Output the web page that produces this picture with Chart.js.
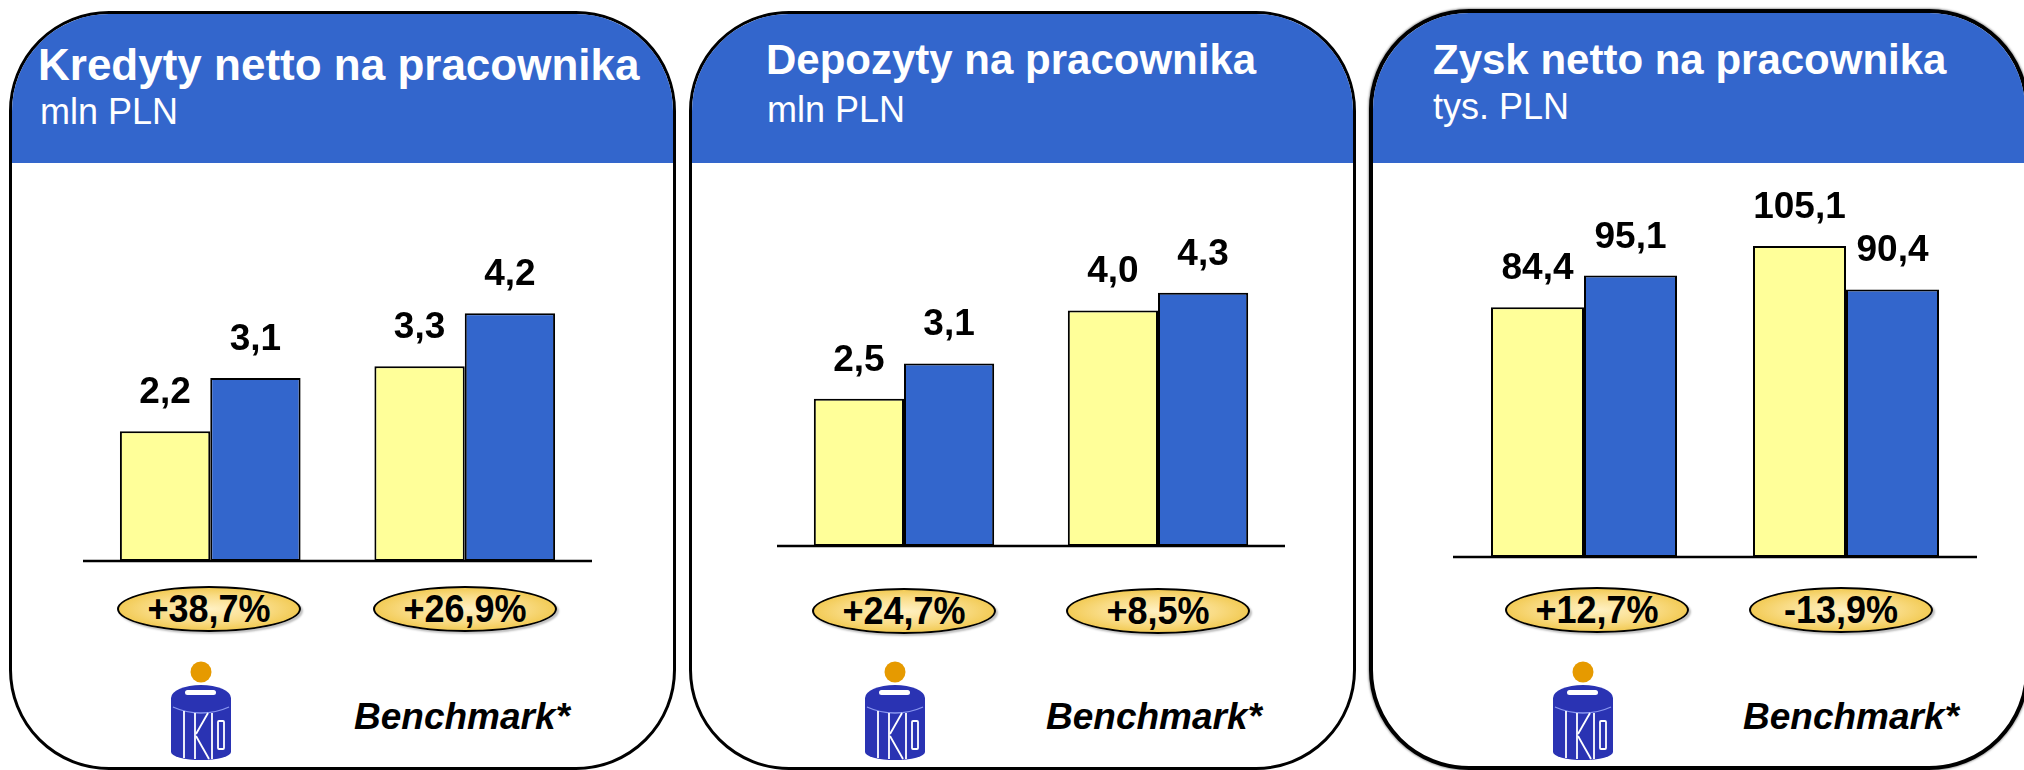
<!DOCTYPE html>
<html>
<head>
<meta charset="utf-8">
<script src="https://cdn.jsdelivr.net/npm/chart.js@4.4.1/dist/chart.umd.min.js"></script>
<style>
  html, body { margin:0; padding:0; background:#fff; }
  body { width:2024px; height:770px; position:relative; overflow:hidden; font-family:"Liberation Sans", Arial, sans-serif; }
  .panel { position:absolute; box-sizing:border-box; border:3px solid #000; border-radius:100px; overflow:hidden; background:#fff; }
  .panel .head { position:absolute; left:0; top:0; right:0; background:#3366CC; }
  .txt { position:absolute; white-space:nowrap; line-height:1; }
  .title { color:#fff; font-weight:bold; }
  .sub { color:#fff; }
  .bench { color:#000; font-weight:bold; font-style:italic; }
  .pill { position:absolute; box-sizing:border-box; width:184px; height:46px; border:2px solid #000; border-radius:50%;
          background: radial-gradient(ellipse at 50% 50%, #FFF1C4 0%, #F9DC86 45%, #F0C545 80%, #E9B52C 100%);
          box-shadow: 2px 2px 2px rgba(0,0,0,0.25);
          display:flex; align-items:center; justify-content:center; font-weight:bold; font-size:36px; line-height:1; color:#000; }
  .pill span { display:inline-block; transform:scaleY(1.08); }
  canvas.layer { position:absolute; left:0; top:0; }
  svg.logo { position:absolute; }
</style>
</head>
<body>
<script>
// ---------------- DATA ----------------
const categories = ['PKO BP', 'Benchmark'];
const seriesNames = ['Okres poprzedni', 'Okres bieżący'];

const kredytyPrev = [2.2, 3.3];
const kredytyCurr = [3.1, 4.2];
const kredytyChange = ['+38,7%', '+26,9%'];

const depozytyPrev = [2.5, 4.0];
const depozytyCurr = [3.1, 4.3];
const depozytyChange = ['+24,7%', '+8,5%'];

const zyskPrev = [84.4, 105.1];
const zyskCurr = [95.1, 90.4];
const zyskChange = ['+12,7%', '-13,9%'];

const panelTitles = ['Kredyty netto na pracownika', 'Depozyty na pracownika', 'Zysk netto na pracownika'];
const panelUnits = ['mln PLN', 'mln PLN', 'tys. PLN'];
const benchmarkLabel = 'Benchmark*';

// ---------------- LAYOUT (positions only) ----------------
const layouts = [
  { box:[8.5, 10.5, 667, 759], border:3, headBottom:163, titleX:38, titleBase:80, titleSize:44, subX:40, subBase:124,
    area:{left:83, right:592, bottom:561}, yMax:5, pxPerUnit:59,
    pills:[209, 465], pillY:609, logoCX:201, benchX:354 },
  { box:[688.5, 10.5, 667, 759], border:3, headBottom:163, titleX:766, titleBase:75, titleSize:42, subX:767, subBase:122,
    area:{left:777, right:1285, bottom:546}, yMax:5, pxPerUnit:58.9,
    pills:[904, 1158], pillY:611, logoCX:895, benchX:1046 },
  { box:[1369, 9, 660, 761], border:4, headBottom:163, titleX:1433, titleBase:75, titleSize:42, subX:1433, subBase:119,
    area:{left:1453, right:1977, bottom:557}, yMax:110, pxPerUnit:2.96,
    pills:[1597, 1841], pillY:609.5, logoCX:1583, benchX:1743 }
];

const panelData = [
  { prev:kredytyPrev, curr:kredytyCurr, change:kredytyChange },
  { prev:depozytyPrev, curr:depozytyCurr, change:depozytyChange },
  { prev:zyskPrev, curr:zyskCurr, change:zyskChange }
];

const W = 2024, H = 770;

function addText(cls, text, x, baseline, size) {
  const d = document.createElement('div');
  d.className = 'txt ' + cls;
  d.textContent = text;
  d.style.fontSize = size + 'px';
  d.style.left = x + 'px';
  d.style.top = (baseline - 0.8465 * size) + 'px';
  document.body.appendChild(d);
  return d;
}

function addLogo(cx) {
  const ns = 'http://www.w3.org/2000/svg';
  const svg = document.createElementNS(ns, 'svg');
  svg.setAttribute('class', 'logo');
  svg.setAttribute('width', '62');
  svg.setAttribute('height', '104');
  svg.setAttribute('viewBox', '0 0 62 104');
  svg.style.left = (cx - 31) + 'px';
  svg.style.top = '660px';
  svg.innerHTML =
    '<circle cx="31" cy="12" r="10.5" fill="#E69A00"/>' +
    '<path d="M1 38 A30 13 0 0 1 61 38 L61 92 A30 8 0 0 1 1 92 Z" fill="#2A33B3"/>' +
    '<rect x="15" y="30" width="31" height="5" rx="2.5" fill="#fff"/>' +
    '<path d="M3 47 Q16 53 31 53 Q46 53 59 47" stroke="#8b98f0" stroke-width="1.3" fill="none"/>' +
    '<g stroke="#fff" stroke-width="1.8" fill="none">' +
      '<line x1="14" y1="51" x2="14" y2="98"/>' +
      '<line x1="25" y1="53" x2="25" y2="99"/>' +
      '<path d="M26 74 L38 53"/>' +
      '<path d="M26 76 L39 99"/>' +
      '<line x1="42" y1="53" x2="42" y2="99"/>' +
      '<rect x="48" y="61" width="6" height="28" rx="1"/>' +
    '</g>';
  document.body.appendChild(svg);
}

// panels, headers, text
layouts.forEach((L, p) => {
  const panel = document.createElement('div');
  panel.className = 'panel';
  panel.style.left = L.box[0] + 'px';
  panel.style.top = L.box[1] + 'px';
  panel.style.width = L.box[2] + 'px';
  panel.style.height = L.box[3] + 'px';
  panel.style.borderWidth = L.border + 'px';
  if (p === 2) panel.style.boxShadow = '0 0 2px 1px rgba(0,0,0,0.35)';
  const head = document.createElement('div');
  head.className = 'head';
  head.style.height = (L.headBottom - L.box[1] - L.border) + 'px';
  panel.appendChild(head);
  document.body.appendChild(panel);

  addText('title', panelTitles[p], L.titleX, L.titleBase, L.titleSize);
  addText('sub', panelUnits[p], L.subX, L.subBase, 36);
  addText('bench', benchmarkLabel, L.benchX, 729, 37);
  addLogo(L.logoCX);

  panelData[p].change.forEach((c, i) => {
    const e = document.createElement('div');
    e.className = 'pill';
    const s = document.createElement('span');
    s.textContent = c;
    e.appendChild(s);
    e.style.left = (L.pills[i] - 92) + 'px';
    e.style.top = (L.pillY - 23) + 'px';
    document.body.appendChild(e);
  });
});

// ---------------- CHARTS ----------------
const fmt = v => v.toFixed(1).replace('.', ',');

const valueLabels = {
  id: 'valueLabels',
  afterDatasetsDraw(chart) {
    const ctx = chart.ctx;
    const area = chart.chartArea;
    const y0 = chart.scales.y.getPixelForValue(0);
    ctx.save();
    ctx.strokeStyle = '#000';
    ctx.lineWidth = 2.5;
    ctx.beginPath();
    ctx.moveTo(area.left, y0);
    ctx.lineTo(area.right, y0);
    ctx.stroke();
    ctx.fillStyle = '#000';
    ctx.font = 'bold 37px "Liberation Sans", Arial, sans-serif';
    ctx.textAlign = 'center';
    ctx.textBaseline = 'alphabetic';
    chart.data.datasets.forEach((ds, di) => {
      chart.getDatasetMeta(di).data.forEach((bar, i) => {
        ctx.fillText(fmt(ds.data[i]), bar.x, bar.y - 28);
      });
    });
    ctx.restore();
  }
};

layouts.forEach((L, p) => {
  const cv = document.createElement('canvas');
  cv.className = 'layer';
  cv.width = W; cv.height = H;
  cv.style.width = W + 'px'; cv.style.height = H + 'px';
  document.body.appendChild(cv);
  const top = L.area.bottom - L.yMax * L.pxPerUnit;
  new Chart(cv, {
    type: 'bar',
    data: {
      labels: categories,
      datasets: [
        { label: seriesNames[0], data: panelData[p].prev, backgroundColor: '#FFFF99', borderColor: '#000', borderWidth: 2, borderSkipped: false, categoryPercentage: 0.71, barPercentage: 1.0 },
        { label: seriesNames[1], data: panelData[p].curr, backgroundColor: '#3366CC', borderColor: '#000', borderWidth: 2, borderSkipped: false, categoryPercentage: 0.71, barPercentage: 1.0 }
      ]
    },
    options: {
      responsive: false,
      animation: false,
      devicePixelRatio: 1,
      events: [],
      layout: { padding: { left: L.area.left, right: W - L.area.right, top: top, bottom: H - L.area.bottom } },
      plugins: { legend: { display: false }, tooltip: { enabled: false } },
      scales: {
        x: { display: false },
        y: { display: false, min: 0, max: L.yMax }
      }
    },
    plugins: [valueLabels]
  });
});
</script>
</body>
</html>
